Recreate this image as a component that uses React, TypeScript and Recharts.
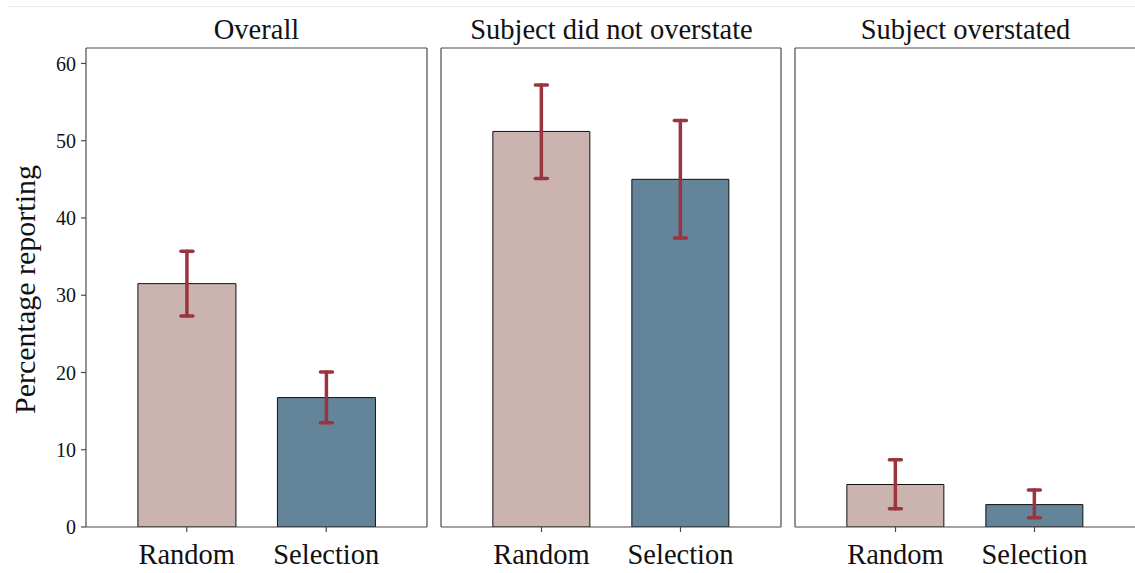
import React from 'react';
import { BarChart, Bar, XAxis, YAxis, ErrorBar, Cell } from 'recharts';

const categories = ['Random', 'Selection'];
const panelTitles = ['Overall', 'Subject did not overstate', 'Subject overstated'];

const overallValues = [31.5, 16.75];
const overallLow = [27.3, 13.5];
const overallHigh = [35.7, 20.05];

const notOverstateValues = [51.2, 45.0];
const notOverstateLow = [45.1, 37.4];
const notOverstateHigh = [57.2, 52.6];

const overstatedValues = [5.5, 2.9];
const overstatedLow = [2.35, 1.2];
const overstatedHigh = [8.7, 4.8];

const yTicks = [0, 10, 20, 30, 40, 50, 60];
const barColors = ['#cbb4b0', '#64849a'];
const errColor = '#9a3540';
const FONT = '"Liberation Serif", "Times New Roman", serif';

function buildRows(values: number[], low: number[], high: number[]) {
  return categories.map((c, i) => ({
    cat: c,
    value: values[i],
    err: [values[i] - low[i], high[i] - values[i]],
  }));
}

const panels = [
  buildRows(overallValues, overallLow, overallHigh),
  buildRows(notOverstateValues, notOverstateLow, notOverstateHigh),
  buildRows(overstatedValues, overstatedLow, overstatedHigh),
];

const lineColor = '#4a4a4a';

function Panel({ idx, rows, left, width, showY, padRight }: any) {
  const yW = showY ? 86 : 1;
  const margin = showY
    ? { top: 47, right: 13, bottom: 0, left: 0 }
    : { top: 47, right: 1, bottom: 0, left: 0 };
  const plotLeft = left + yW;
  const plotWidth = 341;
  const pad = { left: 31, right: 31 + (padRight || 0) };
  return (
    <>
      <div
        style={{
          position: 'absolute',
          left: plotLeft,
          top: 16,
          width: plotWidth,
          textAlign: 'center',
          fontFamily: FONT,
          fontSize: 28.5,
          lineHeight: '28px',
          color: '#111',
          whiteSpace: 'nowrap',
        }}
      >
        {panelTitles[idx]}
      </div>
      <div style={{ position: 'absolute', left, top: 0 }}>
        <BarChart width={width} height={573} data={rows} margin={margin} barCategoryGap="15%" barGap={0}>
          <XAxis
            dataKey="cat"
            height={46}
            padding={pad}
            axisLine={{ stroke: lineColor, strokeWidth: 1.2 }}
            tickLine={{ stroke: lineColor, strokeWidth: 1.2 }}
            tickSize={5}
            tickMargin={12}
            tick={{ fontFamily: FONT, fontSize: 28.5, fill: '#111' }}
          />
          <XAxis
            xAxisId="top"
            dataKey="cat"
            orientation="top"
            height={1}
            padding={pad}
            tick={false}
            tickLine={false}
            axisLine={{ stroke: lineColor, strokeWidth: 1.2 }}
          />
          <YAxis
            width={yW}
            domain={[0, 62]}
            ticks={yTicks}
            allowDataOverflow
            axisLine={{ stroke: lineColor, strokeWidth: 1.2 }}
            tickLine={showY ? { stroke: lineColor, strokeWidth: 1.2 } : false}
            tickSize={5}
            tickMargin={5}
            tick={showY ? { fontFamily: FONT, fontSize: 20, fill: '#111' } : false}
            label={
              showY
                ? {
                    content: (props: any) => {
                      const vb = props.viewBox || { x: 0, y: 48, height: 479 };
                      const cx = 24;
                      const cy = vb.y + vb.height / 2 + 2;
                      return (
                        <text
                          x={cx}
                          y={cy}
                          transform={`rotate(-90 ${cx} ${cy})`}
                          textAnchor="middle"
                          dominantBaseline="central"
                          style={{ fontFamily: FONT, fontSize: 30, fill: '#111' }}
                        >
                          Percentage reporting
                        </text>
                      );
                    },
                  }
                : undefined
            }
          />
          <YAxis
            yAxisId="right"
            orientation="right"
            width={1}
            domain={[0, 62]}
            ticks={yTicks}
            allowDataOverflow
            tick={false}
            tickLine={false}
            axisLine={{ stroke: lineColor, strokeWidth: 1.2 }}
          />
          <Bar dataKey="value" stroke="#111" strokeWidth={1} isAnimationActive={false}>
            {rows.map((r: any, i: number) => (
              <Cell key={r.cat} fill={barColors[i]} />
            ))}
            <ErrorBar
              dataKey="err"
              width={6}
              stroke={errColor}
              strokeWidth={3.5}
              strokeLinecap="round"
              isAnimationActive={false}
            />
          </Bar>
          <Bar
            dataKey="none"
            xAxisId="top"
            yAxisId="right"
            fill="none"
            legendType="none"
            isAnimationActive={false}
          />
        </BarChart>
      </div>
    </>
  );
}

export default function App() {
  return (
    <div
      style={{
        position: 'absolute',
        left: 0,
        top: 0,
        width: 1135,
        height: 573,
        background: '#fff',
        overflow: 'hidden',
      }}
    >
      <div
        style={{
          position: 'absolute',
          left: 8,
          top: 6,
          width: 1127,
          height: 1,
          background: '#e6eeee',
        }}
      />
      <Panel idx={0} rows={panels[0]} left={0} width={441} showY />
      <Panel idx={1} rows={panels[1]} left={440} width={343} showY={false} />
      <Panel idx={2} rows={panels[2]} left={794} width={383} showY={false} padRight={40} />
    </div>
  );
}
